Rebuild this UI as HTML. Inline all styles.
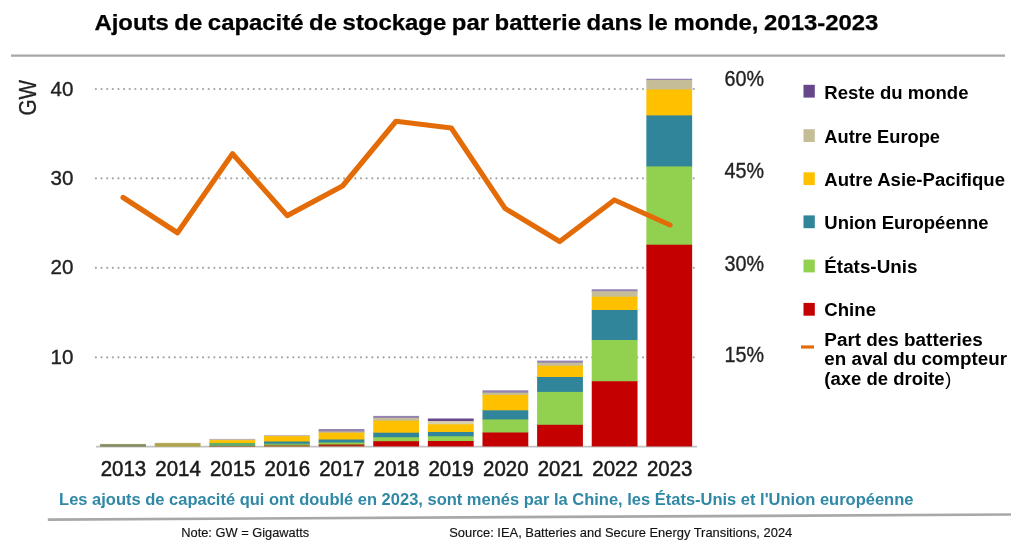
<!DOCTYPE html>
<html lang="fr"><head><meta charset="utf-8"><title>Ajouts de capacité de stockage par batterie dans le monde, 2013-2023</title>
<style>html,body{margin:0;padding:0;background:#fff}body{width:1024px;height:549px;overflow:hidden}svg{display:block}text{font-family:"Liberation Sans",sans-serif}.b{font-weight:bold}</style></head><body>
<svg width="1024" height="549" viewBox="0 0 1024 549">
<rect width="1024" height="549" fill="#fff"/>
<text class="b" x="94.4" y="30.4" font-size="22.5" fill="#000" stroke="#000" stroke-width="0.25" style="word-spacing:-1px" textLength="784" lengthAdjust="spacingAndGlyphs">Ajouts de capacité de stockage par batterie dans le monde, 2013-2023</text>
<line x1="11" y1="55.6" x2="1005" y2="55.6" stroke="#a6a6a6" stroke-width="2.2"/>
<line x1="95.9" y1="89.0" x2="694.5" y2="89.0" stroke="#a4a4a4" stroke-width="2.2" stroke-linecap="round" stroke-dasharray="0.01 5.63"/>
<line x1="95.9" y1="178.3" x2="694.5" y2="178.3" stroke="#a4a4a4" stroke-width="2.2" stroke-linecap="round" stroke-dasharray="0.01 5.63"/>
<line x1="95.9" y1="267.8" x2="694.5" y2="267.8" stroke="#a4a4a4" stroke-width="2.2" stroke-linecap="round" stroke-dasharray="0.01 5.63"/>
<line x1="95.9" y1="357.3" x2="694.5" y2="357.3" stroke="#a4a4a4" stroke-width="2.2" stroke-linecap="round" stroke-dasharray="0.01 5.63"/>
<line x1="96" y1="446.65" x2="697" y2="446.65" stroke="#c2c2c2" stroke-width="1.9"/>
<rect x="100.15" y="443.90" width="45.8" height="1.20" fill="#B9B08A"/>
<rect x="100.15" y="444.50" width="45.8" height="2.20" fill="#7F8A5C"/>
<rect x="154.77" y="442.80" width="45.8" height="1.20" fill="#C9BE8A"/>
<rect x="154.77" y="443.40" width="45.8" height="3.30" fill="#ADA348"/>
<rect x="209.39" y="438.90" width="45.8" height="1.10" fill="#A899BF"/>
<rect x="209.39" y="439.40" width="45.8" height="1.40" fill="#D2C9A0"/>
<rect x="209.39" y="440.20" width="45.8" height="3.40" fill="#FFC000"/>
<rect x="209.39" y="443.00" width="45.8" height="3.50" fill="#5FAE6E"/>
<rect x="209.39" y="445.90" width="45.8" height="0.80" fill="#B0623A"/>
<rect x="264.01" y="435.20" width="45.8" height="1.00" fill="#A899BF"/>
<rect x="264.01" y="435.60" width="45.8" height="1.20" fill="#D2C9A0"/>
<rect x="264.01" y="436.20" width="45.8" height="5.90" fill="#FFC000"/>
<rect x="264.01" y="441.50" width="45.8" height="2.70" fill="#31859B"/>
<rect x="264.01" y="443.60" width="45.8" height="2.10" fill="#79B860"/>
<rect x="264.01" y="445.10" width="45.8" height="1.60" fill="#A8702C"/>
<rect x="318.63" y="429.00" width="45.8" height="3.10" fill="#9583B2"/>
<rect x="318.63" y="431.50" width="45.8" height="1.80" fill="#C4BD97"/>
<rect x="318.63" y="432.70" width="45.8" height="7.40" fill="#FFC000"/>
<rect x="318.63" y="439.50" width="45.8" height="3.60" fill="#31859B"/>
<rect x="318.63" y="442.50" width="45.8" height="2.50" fill="#92D050"/>
<rect x="318.63" y="444.40" width="45.8" height="2.05" fill="#A83214"/>
<rect x="373.25" y="415.90" width="45.8" height="2.60" fill="#9583B2"/>
<rect x="373.25" y="417.90" width="45.8" height="3.40" fill="#C4BD97"/>
<rect x="373.25" y="420.70" width="45.8" height="12.60" fill="#FFC000"/>
<rect x="373.25" y="432.70" width="45.8" height="5.20" fill="#31859B"/>
<rect x="373.25" y="437.30" width="45.8" height="4.50" fill="#92D050"/>
<rect x="373.25" y="441.20" width="45.8" height="5.25" fill="#C40000"/>
<rect x="427.87" y="418.50" width="45.8" height="3.20" fill="#66488A"/>
<rect x="427.87" y="421.10" width="45.8" height="3.80" fill="#D8D1AE"/>
<rect x="427.87" y="424.30" width="45.8" height="8.30" fill="#FFC000"/>
<rect x="427.87" y="432.00" width="45.8" height="4.90" fill="#31859B"/>
<rect x="427.87" y="436.30" width="45.8" height="5.30" fill="#92D050"/>
<rect x="427.87" y="441.00" width="45.8" height="5.45" fill="#C40000"/>
<rect x="482.49" y="390.30" width="45.8" height="2.90" fill="#9583B2"/>
<rect x="482.49" y="392.60" width="45.8" height="2.90" fill="#C4BD97"/>
<rect x="482.49" y="394.90" width="45.8" height="16.00" fill="#FFC000"/>
<rect x="482.49" y="410.30" width="45.8" height="9.70" fill="#31859B"/>
<rect x="482.49" y="419.40" width="45.8" height="13.70" fill="#92D050"/>
<rect x="482.49" y="432.50" width="45.8" height="13.95" fill="#C40000"/>
<rect x="537.11" y="360.60" width="45.8" height="2.70" fill="#9583B2"/>
<rect x="537.11" y="362.70" width="45.8" height="3.70" fill="#C4BD97"/>
<rect x="537.11" y="365.80" width="45.8" height="11.80" fill="#FFC000"/>
<rect x="537.11" y="377.00" width="45.8" height="15.50" fill="#31859B"/>
<rect x="537.11" y="391.90" width="45.8" height="33.50" fill="#92D050"/>
<rect x="537.11" y="424.80" width="45.8" height="21.65" fill="#C40000"/>
<rect x="591.73" y="289.25" width="45.8" height="2.60" fill="#9583B2"/>
<rect x="591.73" y="291.25" width="45.8" height="6.10" fill="#C4BD97"/>
<rect x="591.73" y="296.75" width="45.8" height="13.85" fill="#FFC000"/>
<rect x="591.73" y="310.00" width="45.8" height="30.60" fill="#31859B"/>
<rect x="591.73" y="340.00" width="45.8" height="41.85" fill="#92D050"/>
<rect x="591.73" y="381.25" width="45.8" height="65.20" fill="#C40000"/>
<rect x="646.35" y="78.75" width="45.8" height="1.85" fill="#9583B2"/>
<rect x="646.35" y="80.00" width="45.8" height="10.10" fill="#C4BD97"/>
<rect x="646.35" y="89.50" width="45.8" height="26.50" fill="#FFC000"/>
<rect x="646.35" y="115.40" width="45.8" height="51.60" fill="#31859B"/>
<rect x="646.35" y="166.40" width="45.8" height="78.90" fill="#92D050"/>
<rect x="646.35" y="244.70" width="45.8" height="201.75" fill="#C40000"/>
<polyline points="123.1,197.5 177.5,232.8 232.5,153.75 287.2,215.6 342.5,186 396,121.25 451.25,128 505,208.4 559.7,241.5 614.4,200 670,225" fill="none" stroke="#E36C09" stroke-width="5.2" stroke-linejoin="round" stroke-linecap="round"/>
<text x="50.6" y="95.6" font-size="21" fill="#222" stroke="#222" stroke-width="0.35" textLength="22.9" lengthAdjust="spacingAndGlyphs">40</text>
<text x="50.6" y="185.0" font-size="21" fill="#222" stroke="#222" stroke-width="0.35" textLength="22.9" lengthAdjust="spacingAndGlyphs">30</text>
<text x="50.6" y="274.4" font-size="21" fill="#222" stroke="#222" stroke-width="0.35" textLength="22.9" lengthAdjust="spacingAndGlyphs">20</text>
<text x="50.6" y="363.8" font-size="21" fill="#222" stroke="#222" stroke-width="0.35" textLength="22.9" lengthAdjust="spacingAndGlyphs">10</text>
<text transform="translate(35.8,115.6) rotate(-90)" font-size="23.5" fill="#222" stroke="#222" stroke-width="0.3" textLength="35.6" lengthAdjust="spacingAndGlyphs">GW</text>
<text x="724.5" y="85.6" font-size="21.5" fill="#222" stroke="#222" stroke-width="0.35" textLength="39.5" lengthAdjust="spacingAndGlyphs">60%</text>
<text x="724.5" y="177.7" font-size="21.5" fill="#222" stroke="#222" stroke-width="0.35" textLength="39.5" lengthAdjust="spacingAndGlyphs">45%</text>
<text x="724.5" y="270.6" font-size="21.5" fill="#222" stroke="#222" stroke-width="0.35" textLength="39.5" lengthAdjust="spacingAndGlyphs">30%</text>
<text x="724.5" y="361.6" font-size="21.5" fill="#222" stroke="#222" stroke-width="0.35" textLength="39.5" lengthAdjust="spacingAndGlyphs">15%</text>
<text x="100.75" y="475.7" font-size="21.3" fill="#1a1a1a" stroke="#1a1a1a" stroke-width="0.5" textLength="45.5" lengthAdjust="spacingAndGlyphs">2013</text>
<text x="155.37" y="475.7" font-size="21.3" fill="#1a1a1a" stroke="#1a1a1a" stroke-width="0.5" textLength="45.5" lengthAdjust="spacingAndGlyphs">2014</text>
<text x="209.99" y="475.7" font-size="21.3" fill="#1a1a1a" stroke="#1a1a1a" stroke-width="0.5" textLength="45.5" lengthAdjust="spacingAndGlyphs">2015</text>
<text x="264.61" y="475.7" font-size="21.3" fill="#1a1a1a" stroke="#1a1a1a" stroke-width="0.5" textLength="45.5" lengthAdjust="spacingAndGlyphs">2016</text>
<text x="319.23" y="475.7" font-size="21.3" fill="#1a1a1a" stroke="#1a1a1a" stroke-width="0.5" textLength="45.5" lengthAdjust="spacingAndGlyphs">2017</text>
<text x="373.85" y="475.7" font-size="21.3" fill="#1a1a1a" stroke="#1a1a1a" stroke-width="0.5" textLength="45.5" lengthAdjust="spacingAndGlyphs">2018</text>
<text x="428.47" y="475.7" font-size="21.3" fill="#1a1a1a" stroke="#1a1a1a" stroke-width="0.5" textLength="45.5" lengthAdjust="spacingAndGlyphs">2019</text>
<text x="483.09" y="475.7" font-size="21.3" fill="#1a1a1a" stroke="#1a1a1a" stroke-width="0.5" textLength="45.5" lengthAdjust="spacingAndGlyphs">2020</text>
<text x="537.71" y="475.7" font-size="21.3" fill="#1a1a1a" stroke="#1a1a1a" stroke-width="0.5" textLength="45.5" lengthAdjust="spacingAndGlyphs">2021</text>
<text x="592.33" y="475.7" font-size="21.3" fill="#1a1a1a" stroke="#1a1a1a" stroke-width="0.5" textLength="45.5" lengthAdjust="spacingAndGlyphs">2022</text>
<text x="646.95" y="475.7" font-size="21.3" fill="#1a1a1a" stroke="#1a1a1a" stroke-width="0.5" textLength="45.5" lengthAdjust="spacingAndGlyphs">2023</text>
<rect x="803.5" y="84.80" width="11.3" height="12.8" fill="#66488A"/>
<text class="b" x="824.3" y="99.1" font-size="18.3" fill="#000" textLength="144.2" lengthAdjust="spacingAndGlyphs">Reste du monde</text>
<rect x="803.5" y="129.20" width="11.3" height="12.8" fill="#C4BD97"/>
<text class="b" x="824.3" y="143.2" font-size="18.3" fill="#000" textLength="115.7" lengthAdjust="spacingAndGlyphs">Autre Europe</text>
<rect x="803.5" y="172.30" width="11.3" height="12.8" fill="#FFC000"/>
<text class="b" x="824.3" y="186.1" font-size="18.3" fill="#000" textLength="180.7" lengthAdjust="spacingAndGlyphs">Autre Asie-Pacifique</text>
<rect x="803.5" y="215.40" width="11.3" height="12.8" fill="#31859B"/>
<text class="b" x="824.3" y="229.1" font-size="18.3" fill="#000" textLength="164.2" lengthAdjust="spacingAndGlyphs">Union Européenne</text>
<rect x="803.5" y="259.60" width="11.3" height="12.8" fill="#92D050"/>
<text class="b" x="824.3" y="272.7" font-size="18.3" fill="#000" textLength="93.2" lengthAdjust="spacingAndGlyphs">États-Unis</text>
<rect x="803.5" y="302.90" width="11.3" height="12.8" fill="#C40000"/>
<text class="b" x="824.3" y="316.4" font-size="18.3" fill="#000" textLength="51.7" lengthAdjust="spacingAndGlyphs">Chine</text>
<rect x="801" y="345.4" width="13" height="3.2" fill="#E36C09"/>
<text class="b" x="824.3" y="346.4" font-size="18.3" fill="#000" textLength="158.5" lengthAdjust="spacingAndGlyphs">Part des batteries</text>
<text class="b" x="824.3" y="365.1" font-size="18.3" fill="#000" textLength="182.7" lengthAdjust="spacingAndGlyphs">en aval du compteur</text>
<text class="b" x="824.3" y="385" font-size="18.3" fill="#000" textLength="120.3" lengthAdjust="spacingAndGlyphs">(axe de droite</text>
<text x="945.3" y="385" font-size="18.3" fill="#000">)</text>
<text class="b" x="59.1" y="504.5" font-size="15.8" fill="#2F88A5" textLength="854.3" lengthAdjust="spacingAndGlyphs">Les ajouts de capacité qui ont doublé en 2023, sont menés par la Chine, les États-Unis et l'Union européenne</text>
<line x1="47.8" y1="519.6" x2="1011" y2="514.5" stroke="#a8a8a8" stroke-width="2.7"/>
<text x="181.25" y="536.8" font-size="12.9" fill="#111" stroke="#111" stroke-width="0.15" textLength="128" lengthAdjust="spacingAndGlyphs">Note: GW = Gigawatts</text>
<text x="449.25" y="536.8" font-size="12.9" fill="#111" stroke="#111" stroke-width="0.15" textLength="343" lengthAdjust="spacingAndGlyphs">Source: IEA, Batteries and Secure Energy Transitions, 2024</text>
</svg></body></html>
